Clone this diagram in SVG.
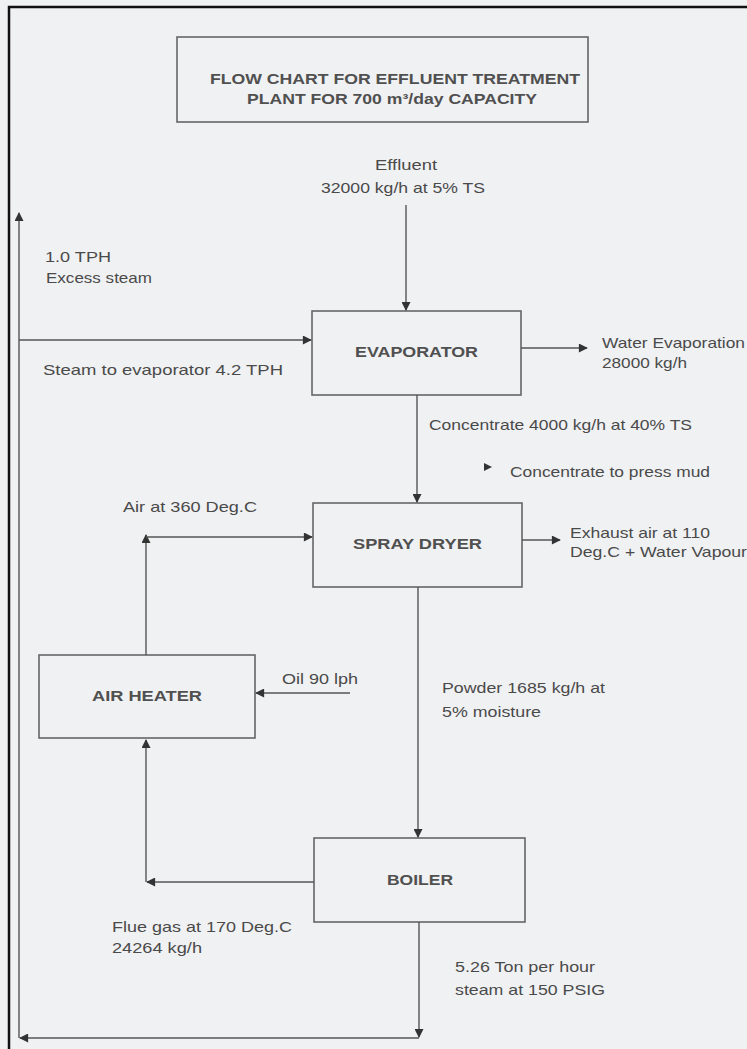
<svg xmlns="http://www.w3.org/2000/svg" width="747" height="1049" viewBox="0 0 747 1049">
<style>
.bg{fill:#f0f1f3}
.box{fill:none;stroke:#666;stroke-width:1.6}
.ln{fill:none;stroke:#555;stroke-width:1.4}
.t{font-family:"Liberation Sans",Arial,sans-serif;font-size:15px;fill:#4a4a4a}
.b{font-family:"Liberation Sans",Arial,sans-serif;font-size:15px;font-weight:bold;fill:#505050}
.frame{fill:none;stroke:#111;stroke-width:2.5}
</style>
<defs>
<marker id="ah" viewBox="0 0 10 10" refX="9" refY="5" markerWidth="10" markerHeight="9" markerUnits="userSpaceOnUse" orient="auto">
<path d="M0,0 L10,5 L0,10 Z" fill="#333"/>
</marker>
</defs>
<rect class="bg" x="0" y="0" width="747" height="1049"/>
<path class="frame" d="M747,7 H9 V1049"/>

<g id="title">
<rect class="box" x="177" y="37" width="411" height="85"/>
<text class="b" x="210" y="84" textLength="370" lengthAdjust="spacingAndGlyphs">FLOW CHART FOR EFFLUENT TREATMENT</text>
<text class="b" x="247" y="104" textLength="290" lengthAdjust="spacingAndGlyphs">PLANT FOR 700 m³/day CAPACITY</text>
</g>

<g id="evaporator">
<rect class="box" x="312" y="311" width="209" height="84"/>
<text class="b" x="355" y="357" textLength="123" lengthAdjust="spacingAndGlyphs">EVAPORATOR</text>
</g>

<g id="spray-dryer">
<rect class="box" x="313" y="503" width="209" height="84"/>
<text class="b" x="353" y="549" textLength="129" lengthAdjust="spacingAndGlyphs">SPRAY DRYER</text>
</g>

<g id="air-heater">
<rect class="box" x="39" y="655" width="216" height="83"/>
<text class="b" x="92" y="701" textLength="110" lengthAdjust="spacingAndGlyphs">AIR HEATER</text>
</g>

<g id="boiler">
<rect class="box" x="314" y="838" width="211" height="84"/>
<text class="b" x="387" y="885" textLength="66" lengthAdjust="spacingAndGlyphs">BOILER</text>
</g>

<g id="connectors">
<path class="ln" d="M406,205 V310" marker-end="url(#ah)"/>
<path class="ln" d="M19,1038 V213" marker-end="url(#ah)"/>
<path class="ln" d="M19,340 H311" marker-end="url(#ah)"/>
<path class="ln" d="M521,348 H587" marker-end="url(#ah)"/>
<path class="ln" d="M417,395 V502" marker-end="url(#ah)"/>
<path d="M484,463 L492,467 L484,471 Z" fill="#333"/>
<path class="ln" d="M146,655 V535" marker-end="url(#ah)"/>
<path class="ln" d="M146,537 H312" marker-end="url(#ah)"/>
<path class="ln" d="M522,540 H560" marker-end="url(#ah)"/>
<path class="ln" d="M350,693 H256" marker-end="url(#ah)"/>
<path class="ln" d="M418,587 V837" marker-end="url(#ah)"/>
<path class="ln" d="M314,882 H147" marker-end="url(#ah)"/>
<path class="ln" d="M146,882 V740" marker-end="url(#ah)"/>
<path class="ln" d="M419,922 V1037" marker-end="url(#ah)"/>
<path class="ln" d="M419,1038 H20" marker-end="url(#ah)"/>
</g>

<g id="labels">
<text class="t" x="375" y="170" textLength="62" lengthAdjust="spacingAndGlyphs">Effluent</text>
<text class="t" x="321" y="193" textLength="164" lengthAdjust="spacingAndGlyphs">32000 kg/h at 5% TS</text>
<text class="t" x="45" y="262" textLength="66" lengthAdjust="spacingAndGlyphs">1.0 TPH</text>
<text class="t" x="46" y="283" textLength="106" lengthAdjust="spacingAndGlyphs">Excess steam</text>
<text class="t" x="43" y="375" textLength="240" lengthAdjust="spacingAndGlyphs">Steam to evaporator  4.2 TPH</text>
<text class="t" x="602" y="348" textLength="143" lengthAdjust="spacingAndGlyphs">Water Evaporation</text>
<text class="t" x="602" y="368" textLength="85" lengthAdjust="spacingAndGlyphs">28000 kg/h</text>
<text class="t" x="429" y="430" textLength="263" lengthAdjust="spacingAndGlyphs">Concentrate 4000 kg/h at 40% TS</text>
<text class="t" x="510" y="477" textLength="200" lengthAdjust="spacingAndGlyphs">Concentrate to press mud</text>
<text class="t" x="123" y="512" textLength="134" lengthAdjust="spacingAndGlyphs">Air at 360 Deg.C</text>
<text class="t" x="570" y="538" textLength="140" lengthAdjust="spacingAndGlyphs">Exhaust air at 110</text>
<text class="t" x="570" y="557" textLength="177" lengthAdjust="spacingAndGlyphs">Deg.C + Water Vapour</text>
<text class="t" x="282" y="684" textLength="76" lengthAdjust="spacingAndGlyphs">Oil 90 lph</text>
<text class="t" x="442" y="693" textLength="163" lengthAdjust="spacingAndGlyphs">Powder 1685 kg/h at</text>
<text class="t" x="442" y="717" textLength="99" lengthAdjust="spacingAndGlyphs">5% moisture</text>
<text class="t" x="112" y="932" textLength="180" lengthAdjust="spacingAndGlyphs">Flue gas at 170 Deg.C</text>
<text class="t" x="112" y="953" textLength="90" lengthAdjust="spacingAndGlyphs">24264 kg/h</text>
<text class="t" x="455" y="972" textLength="140" lengthAdjust="spacingAndGlyphs">5.26 Ton per hour</text>
<text class="t" x="455" y="995" textLength="150" lengthAdjust="spacingAndGlyphs">steam at 150 PSIG</text>
</g>
</svg>
